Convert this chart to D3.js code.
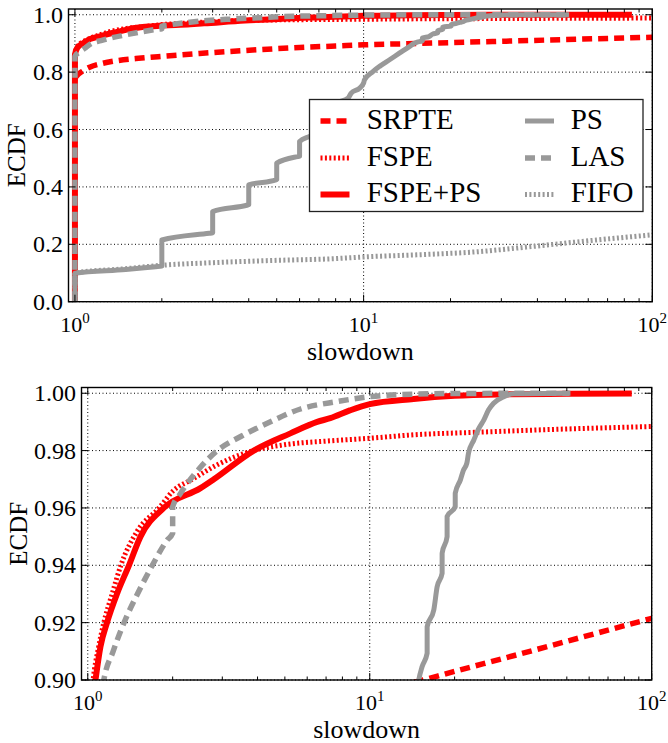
<!DOCTYPE html>
<html><head><meta charset="utf-8">
<script src="https://cdn.jsdelivr.net/npm/d3@7"></script>
<style>
body{margin:0;background:#fff}
svg{display:block}
</style>
</head><body>
<svg id="c" width="668" height="743" font-family="'Liberation Serif', 'DejaVu Serif', serif"></svg>
<script>
// ---- data (slowdown, ECDF) ----
const SRPTE = [[1,0],[1,0.778],[1.07,0.805],[1.13,0.818],[1.24,0.83],[1.4,0.84],[1.7,0.849],[2,0.855],[2.7,0.865],[4.3,0.878],[6,0.886],[8,0.891],[10,0.895],[15.5,0.900],[20,0.903],[30,0.9076],[50,0.9135],[70,0.9174],[100,0.9215]];
const FSPE = [[1,0],[1,0.865],[1.02,0.888],[1.045,0.90],[1.09,0.911],[1.14,0.92],[1.22,0.93],[1.31,0.94],[1.5,0.952],[1.79,0.96],[2.01,0.966],[2.35,0.97],[2.87,0.975],[3.87,0.98],[4.95,0.982],[7.24,0.9834],[10,0.9843],[14.3,0.9855],[24,0.9864],[48.7,0.9875],[100,0.9884]];
const FSPE_PS = [[1,0],[1,0.86],[1.02,0.885],[1.065,0.90],[1.109,0.9116],[1.17,0.92],[1.271,0.9302],[1.40,0.94],[1.538,0.95],[1.86,0.96],[2.51,0.9669],[2.8,0.97],[3.88,0.98],[5.23,0.986],[6.51,0.990],[7.24,0.9913],[8.5,0.994],[10,0.9962],[14.3,0.998],[20,0.9991],[30,0.9996],[50,0.9998],[85,0.99995]];
const PS = [[1,0],[1,0.099],[1.5,0.112],[1.905,0.122],[2,0.124],[2,0.215],[2.92,0.2385],[3,0.24],[3,0.314],[3.97,0.337],[4,0.338],[4,0.407],[4.97,0.4245],[5,0.426],[5,0.483],[5.91,0.5057],[6,0.507],[6,0.558],[6.49,0.5755],[7,0.59],[7,0.63],[7.9,0.655],[8,0.657],[8,0.69],[8.83,0.709],[9.06,0.727],[9.68,0.744],[10,0.762],[10.07,0.773],[10.77,0.802],[11.36,0.82],[12.3,0.843],[13.3,0.866],[14.4,0.889],[14.92,0.900],[15.33,0.9046],[15.98,0.9093],[15.98,0.9186],[16.87,0.9244],[17.34,0.9325],[18.06,0.9372],[18.06,0.9442],[18.81,0.950],[18.81,0.957],[20.1,0.9604],[20.1,0.9651],[20.97,0.9698],[21.5,0.9732],[22.1,0.9756],[22.4,0.9791],[23.4,0.9837],[24.4,0.9878],[25.4,0.9907],[26.4,0.9942],[27.5,0.9965],[29.9,0.9988],[32.4,0.9998],[51.5,1.0]];
const LAS = [[1,0],[1,0.855],[1.03,0.868],[1.078,0.882],[1.14,0.90],[1.23,0.91],[1.342,0.9198],[1.5,0.93],[1.692,0.9399],[1.912,0.9488],[2,0.9512],[2,0.9604],[2.13,0.965],[2.5,0.974],[2.88,0.98],[3.5,0.985],[4.33,0.9895],[5.68,0.9945],[7.66,0.9971],[10,0.9988],[14.3,0.9997],[20,0.9999],[51,1.0]];
const FIFO = [[1,0],[1,0.10],[1.5,0.115],[2,0.127],[3,0.136],[4.6,0.143],[8.3,0.151],[10,0.156],[15,0.163],[24.7,0.174],[38,0.192],[64,0.215],[100,0.233]];

const seriesNames = ["SRPTE","FSPE","FSPE+PS","PS","LAS","FIFO"];
const seriesData = [SRPTE, FSPE, FSPE_PS, PS, LAS, FIFO];

const xTickValues = [1, 10, 100];
const xTickExponents = ["0", "1", "2"];
const topYTicks = [0.0, 0.2, 0.4, 0.6, 0.8, 1.0];
const bottomYTicks = [0.90, 0.92, 0.94, 0.96, 0.98, 1.00];
const xLabel = "slowdown";
const yLabel = "ECDF";

// ---- styles ----
const RED = "#ff0000", GRAY = "#999999";
const styles = [
  {color: RED,  width: 5.5, dash: "10,6"},
  {color: RED,  width: 5,   dash: "2,2.4"},
  {color: RED,  width: 6,   dash: null},
  {color: GRAY, width: 5,   dash: null},
  {color: GRAY, width: 5.5, dash: "10,6"},
  {color: GRAY, width: 5,   dash: "2,2.4"}
];

const panels = [
  {left: 68.5, right: 652.3, top: 9, bottom: 301.7, yDomain: [0, 1.02], yTicks: topYTicks, yFmt: ".1f", legend: true, ylabX: 25},
  {left: 81.5, right: 651.7, top: 387.5, bottom: 680, yDomain: [0.9, 1.002], yTicks: bottomYTicks, yFmt: ".2f", legend: false, ylabX: 26.5}
];

const svg = d3.select("#c");

panels.forEach((p, pi) => {
  const x = d3.scaleLog().domain([0.95, 100]).range([p.left, p.right]);
  const y = d3.scaleLinear().domain(p.yDomain).range([p.bottom, p.top]);
  const g = svg.append("g");

  const clipId = "clip" + pi;
  svg.append("clipPath").attr("id", clipId).append("rect")
    .attr("x", p.left).attr("y", p.top).attr("width", p.right - p.left).attr("height", p.bottom - p.top);

  // grid
  const grid = g.append("g").attr("stroke", "#000").attr("stroke-width", 1).attr("stroke-dasharray", "1,2.5");
  xTickValues.forEach(v => {
    grid.append("line").attr("x1", x(v)).attr("x2", x(v)).attr("y1", p.top).attr("y2", p.bottom);
  });
  p.yTicks.forEach(v => {
    grid.append("line").attr("x1", p.left).attr("x2", p.right).attr("y1", y(v)).attr("y2", y(v));
  });

  // lines
  const line = d3.line().x(d => x(d[0])).y(d => y(d[1])).curve(d3.curveMonotoneX);
  const lg = g.append("g").attr("clip-path", `url(#${clipId})`);
  seriesData.forEach((data, i) => {
    const s = styles[i];
    lg.append("path").attr("d", line(data)).attr("fill", "none")
      .attr("stroke", s.color).attr("stroke-width", s.width)
      .attr("stroke-dasharray", s.dash).attr("stroke-linejoin", "round");
  });

  // frame
  g.append("rect").attr("x", p.left).attr("y", p.top).attr("width", p.right - p.left).attr("height", p.bottom - p.top)
    .attr("fill", "none").attr("stroke", "#000").attr("stroke-width", 1.4);

  // ticks
  const tk = g.append("g").attr("stroke", "#000").attr("stroke-width", 1);
  const minor = [];
  [1, 10].forEach(dec => { for (let k = 2; k <= 9; k++) minor.push(dec * k); });
  minor.forEach(v => {
    tk.append("line").attr("x1", x(v)).attr("x2", x(v)).attr("y1", p.bottom).attr("y2", p.bottom - 3.5);
    tk.append("line").attr("x1", x(v)).attr("x2", x(v)).attr("y1", p.top).attr("y2", p.top + 3.5);
  });
  xTickValues.forEach(v => {
    tk.append("line").attr("x1", x(v)).attr("x2", x(v)).attr("y1", p.bottom).attr("y2", p.bottom - 7);
    tk.append("line").attr("x1", x(v)).attr("x2", x(v)).attr("y1", p.top).attr("y2", p.top + 7);
  });
  p.yTicks.forEach(v => {
    tk.append("line").attr("x1", p.left).attr("x2", p.left + 7).attr("y1", y(v)).attr("y2", y(v));
    tk.append("line").attr("x1", p.right).attr("x2", p.right - 7).attr("y1", y(v)).attr("y2", y(v));
  });

  // tick labels
  const fmt = d3.format(p.yFmt);
  p.yTicks.forEach(v => {
    g.append("text").attr("x", p.left - 5.5).attr("y", y(v)).attr("dy", "0.34em")
      .attr("text-anchor", "end").attr("font-size", 24).text(fmt(v));
  });
  xTickValues.forEach((v, i) => {
    const t = g.append("text").attr("x", x(v)).attr("y", p.bottom + 30)
      .attr("text-anchor", "middle").attr("font-size", 22);
    t.append("tspan").text("10");
    t.append("tspan").attr("font-size", 15).attr("dy", -9).text(xTickExponents[i]);
  });

  // axis labels
  g.append("text").attr("x", (p.left + p.right) / 2).attr("y", p.bottom + 58)
    .attr("text-anchor", "middle").attr("font-size", 26).text(xLabel);
  g.append("text").attr("transform", `translate(${p.ylabX},${(p.top + p.bottom) / 2}) rotate(-90)`)
    .attr("text-anchor", "middle").attr("font-size", 25).text(yLabel);

  // legend
  if (p.legend) {
    const L = g.append("g");
    L.append("rect").attr("x", 309.5).attr("y", 99.5).attr("width", 333.5).attr("height", 112)
      .attr("fill", "#fff").attr("stroke", "#222").attr("stroke-width", 1.3);
    const rowsBase = [128.5, 165.5, 202];
    const cols = [{hx1: 320.5, hx2: 349.5, tx: 366.7}, {hx1: 525, hx2: 554, tx: 570.7}];
    seriesNames.forEach((name, i) => {
      const c = cols[Math.floor(i / 3)], r = rowsBase[i % 3], s = styles[i];
      L.append("line").attr("x1", c.hx1).attr("x2", c.hx2).attr("y1", r - 7.5).attr("y2", r - 7.5)
        .attr("stroke", s.color).attr("stroke-width", s.width).attr("stroke-dasharray", s.dash);
      L.append("text").attr("x", c.tx).attr("y", r).attr("font-size", 29).text(name);
    });
  }
});
</script>
</body></html>
